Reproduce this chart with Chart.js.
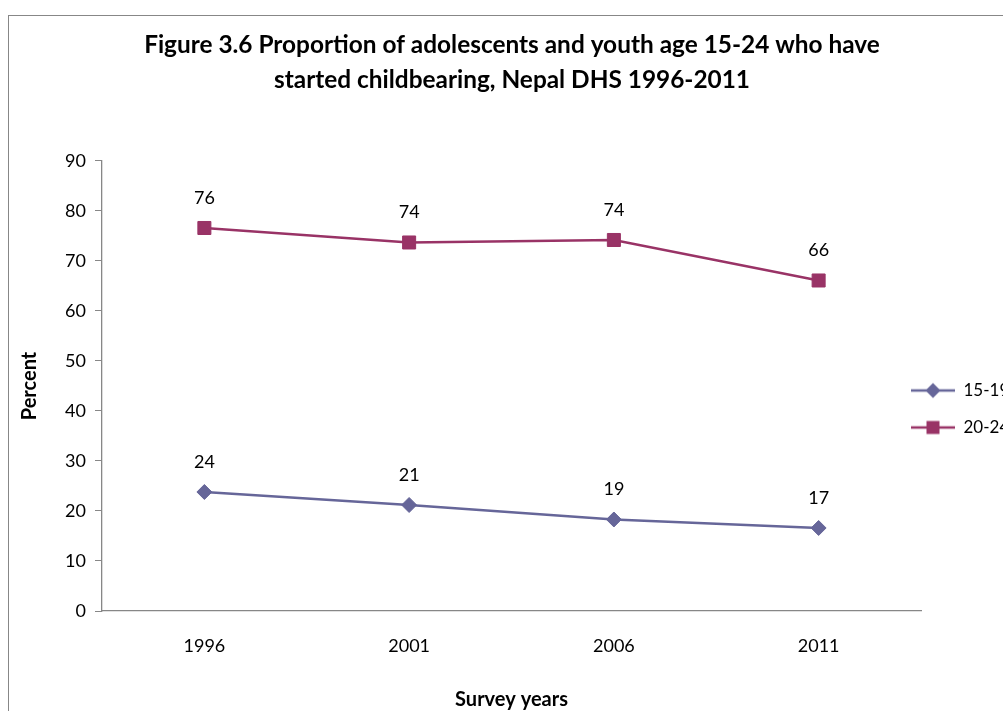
<!DOCTYPE html>
<html>
<head>
<meta charset="utf-8">
<script src="https://cdn.jsdelivr.net/npm/chart.js@4.4.1/dist/chart.umd.min.js"></script>
<style>
  html, body { margin: 0; padding: 0; background: #fff; overflow: hidden; }
  #frame { position: absolute; left: 8px; top: 15px; border: 1px solid #878787; width: 1006px; height: 700px; }
  #chart { display: block; }
</style>
</head>
<body>
<div id="frame"><canvas id="chart" width="1006" height="700"></canvas></div>
<script>
// survey years on the x axis
const years = ['1996', '2001', '2006', '2011'];

// percent who have started childbearing
const teen = [23.8, 21.2, 18.3, 16.6];      // 15-19
const young = [76.6, 73.7, 74.2, 66.1];     // 20-24

// labels printed above the markers
const teenLabels = ['24', '21', '19', '17'];
const youngLabels = ['76', '74', '74', '66'];

const yTicks = [0, 10, 20, 30, 40, 50, 60, 70, 80, 90];

const blue = '#666699';
const plum = '#993366';
const axisGrey = '#878787';
const font = 'Lato';

// little line + marker swatch for the legend, like the excel one
const legendSwatch = (color, shape) => {
  const c = document.createElement('canvas');
  c.width = 44;
  c.height = 18;
  const g = c.getContext('2d');
  g.strokeStyle = color;
  g.lineWidth = 2.5;
  g.beginPath();
  g.moveTo(0, 9);
  g.lineTo(44, 9);
  g.stroke();
  g.fillStyle = color;
  g.beginPath();
  if (shape === 'diamond') {
    g.moveTo(22, 1.5);
    g.lineTo(29.5, 9);
    g.lineTo(22, 16.5);
    g.lineTo(14.5, 9);
    g.closePath();
  } else {
    g.rect(15.5, 2.5, 13, 13);
  }
  g.fill();
  return c;
};

const valueLabels = {
  id: 'valueLabels',
  afterDatasetsDraw(chart) {
    const ctx = chart.ctx;
    ctx.save();
    ctx.font = '18px ' + font;
    ctx.fillStyle = '#000';
    ctx.textAlign = 'center';
    ctx.textBaseline = 'middle';
    chart.data.datasets.forEach((ds, i) => {
      const meta = chart.getDatasetMeta(i);
      meta.data.forEach((pt, j) => {
        ctx.fillText(ds.valueText[j], pt.x, pt.y - 30);
      });
    });
    ctx.restore();
  }
};

// excel puts the legend a bit over the plot and lower down
// (only move the left edge so the clip box still reaches the canvas edge)
const legendNudge = {
  id: 'legendNudge',
  afterLayout(chart) {
    const lg = chart.legend;
    lg.left -= 30;
    lg.top += 23;
    lg.bottom += 23;
  }
};

new Chart(document.getElementById('chart'), {
  type: 'line',
  data: {
    labels: years,
    datasets: [{
      label: '15-19',
      data: teen,
      valueText: teenLabels,
      borderColor: blue,
      backgroundColor: blue,
      borderWidth: 2.5,
      pointStyle: 'rectRot',
      pointRadius: 7.5,
      pointBorderWidth: 1,
      pointBackgroundColor: blue,
      pointBorderColor: blue,
      tension: 0
    }, {
      label: '20-24',
      data: young,
      valueText: youngLabels,
      borderColor: plum,
      backgroundColor: plum,
      borderWidth: 2.5,
      pointStyle: 'rect',
      pointRadius: 9.2,
      pointBorderWidth: 1,
      pointBackgroundColor: plum,
      pointBorderColor: plum,
      tension: 0
    }]
  },
  options: {
    responsive: false,
    animation: false,
    layout: { padding: { left: 0, right: 0, top: 0, bottom: 4 } },
    plugins: {
      title: {
        display: true,
        text: ['Figure 3.6 Proportion of adolescents and youth age 15-24 who have',
               'started childbearing, Nepal DHS 1996-2011'],
        color: '#000',
        font: { family: font, size: 24.4, weight: 'bold', lineHeight: 1.434 },
        padding: { top: 11.5, bottom: 63.5 }
      },
      legend: {
        position: 'right',
        fullSize: false,
        maxWidth: 94,
        labels: {
          color: '#000',
          font: { family: font, size: 17 },
          usePointStyle: true,
          pointStyleWidth: 44,
          padding: 20,
          generateLabels: (chart) => chart.data.datasets.map((ds, i) => ({
            text: ds.label,
            pointStyle: legendSwatch(ds.borderColor, i === 0 ? 'diamond' : 'square'),
            fillStyle: ds.borderColor,
            strokeStyle: ds.borderColor,
            lineWidth: 0,
            datasetIndex: i
          }))
        }
      },
      tooltip: { enabled: false }
    },
    scales: {
      x: {
        offset: true,
        afterFit: (axis) => { axis.height = 101; },
        grid: { display: false },
        border: { color: axisGrey, width: 1.3 },
        ticks: { color: '#000', font: { family: font, size: 18 }, padding: 16 },
        title: {
          display: true,
          text: 'Survey years',
          color: '#000',
          font: { family: font, size: 20, weight: 'bold' },
          padding: { top: 0, bottom: 0 }
        }
      },
      y: {
        min: 0,
        max: 90,
        afterFit: (axis) => { axis.width = 93; },
        afterBuildTicks: (axis) => { axis.ticks = yTicks.map(v => ({ value: v })); },
        grid: { drawOnChartArea: false, tickLength: 7, color: axisGrey },
        border: { color: axisGrey, width: 1.3 },
        ticks: { color: '#000', font: { family: font, size: 18 }, padding: 9 },
        title: {
          display: true,
          text: 'Percent',
          color: '#000',
          font: { family: font, size: 20, weight: 'bold' },
          padding: { top: 9, bottom: 0 }
        }
      }
    }
  },
  plugins: [valueLabels, legendNudge]
});
</script>
</body>
</html>
